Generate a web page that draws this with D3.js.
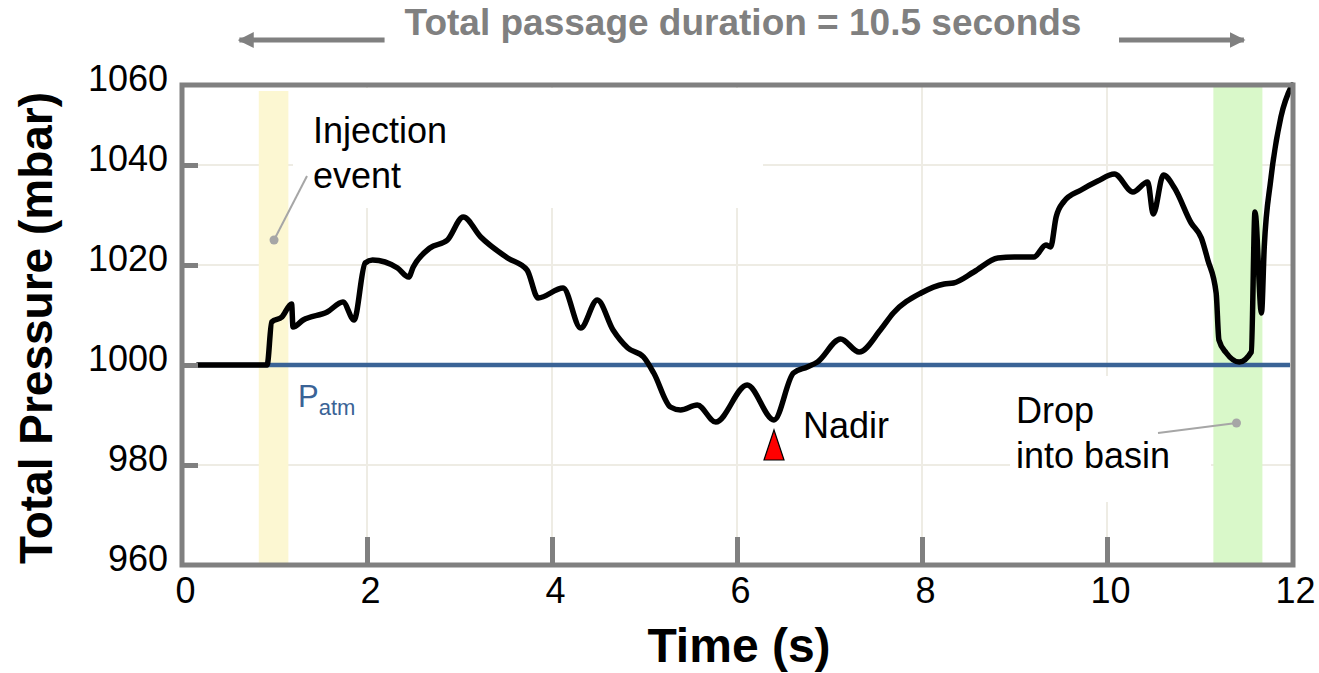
<!DOCTYPE html>
<html>
<head>
<meta charset="utf-8">
<script src="https://cdn.jsdelivr.net/npm/d3@7"></script>
<style>
  body { margin: 0; background: #fff; }
  svg { display: block; font-family: Arial, "Liberation Sans", sans-serif; }
</style>
</head>
<body>
<script>
var width = 1319, height = 673;

// pressure trace
var time = [0.17, 0.92, 0.97, 1.08, 1.185, 1.20, 1.31, 1.57, 1.74, 1.86, 1.98, 2.06, 2.33, 2.45, 2.50,
    2.68, 2.87, 3.04, 3.23, 3.52, 3.73, 3.85, 4.12, 4.31, 4.49, 4.66, 4.82, 4.99, 5.10, 5.28, 5.39,
    5.57, 5.77, 6.11, 6.40, 6.61, 6.76, 6.87, 7.12, 7.32, 7.55, 7.69, 7.99, 8.24, 8.34, 8.56, 8.82,
    9.00, 9.21, 9.34, 9.39, 9.45, 9.53, 9.72, 9.90, 10.08, 10.28, 10.44, 10.50, 10.61, 10.73, 10.91,
    11.02, 11.09, 11.18, 11.21, 11.29, 11.43, 11.56, 11.60, 11.67, 11.70, 11.77, 11.88, 12.0];
var pressure = [1000, 1000, 1008.6, 1009.6, 1012.2, 1007.6, 1009, 1010.6, 1012.6, 1009, 1020.4, 1021,
    1019.4, 1017.6, 1019.6, 1023.4, 1025, 1029.6, 1025.6, 1021.4, 1019, 1013.4, 1015.4, 1007.4, 1013,
    1007, 1003.4, 1001.6, 998.4, 991.6, 991, 992, 988.6, 996, 989, 998.4, 999.6, 1000.6, 1005.2, 1002.6,
    1007, 1010.4, 1014.4, 1016.2, 1016.4, 1018.6, 1021.4, 1021.6, 1021.6, 1024, 1023.6, 1029.6, 1032.6,
    1035, 1036.8, 1038.2, 1034.6, 1036.6, 1030.2, 1038, 1035.4, 1028.4, 1025.4, 1021, 1014.4, 1005,
    1002.4, 1000.6, 1002.6, 1030.6, 1010.4, 1023.6, 1037, 1049.6, 1056];

var xTicks = [0, 2, 4, 6, 8, 10, 12];
var yTicks = [960, 980, 1000, 1020, 1040, 1060];
var xGrid = [2, 4, 6, 8, 10];
var yGrid = [980, 1000, 1020, 1040];

var atmPressure = 1000;
var injectionBand = [0.83, 1.15];
var basinBand = [11.15, 11.68];
var passageArrows = [[2.19, 0.62], [10.13, 11.48]];
var nadirTime = 6.4, nadirPressure = 989;

var svg = d3.select("body").append("svg")
    .attr("width", width)
    .attr("height", height);

svg.append("rect").attr("width", width).attr("height", height).attr("fill", "#fff");

var x = d3.scaleLinear().domain([0, 12]).range([182, 1292]);
var y = d3.scaleLinear().domain([960, 1056]).range([565, 85]);
var yTop = y.domain()[1];

// grid
svg.append("g").selectAll("line")
    .data(yGrid).enter().append("line")
    .attr("x1", x(0) + 16).attr("x2", x(12))
    .attr("y1", function (d) { return y(d); })
    .attr("y2", function (d) { return y(d); })
    .attr("stroke", "#eeece4").attr("stroke-width", 2);
svg.append("g").selectAll("line")
    .data(xGrid).enter().append("line")
    .attr("y1", y(yTop)).attr("y2", y(960) - 28)
    .attr("x1", function (d) { return x(d); })
    .attr("x2", function (d) { return x(d); })
    .attr("stroke", "#eeece4").attr("stroke-width", 2);

// white boxes behind annotations hide the grid, as in the original
svg.append("rect").attr("x", 293).attr("y", 88).attr("width", 470).attr("height", 120).attr("fill", "#fff");
svg.append("rect").attr("x", 1010).attr("y", 376).attr("width", 201).attr("height", 126).attr("fill", "#fff");

// event bands
svg.append("rect")
    .attr("x", x(injectionBand[0])).attr("width", x(injectionBand[1]) - x(injectionBand[0]))
    .attr("y", 91).attr("height", y(960) - 2 - 91)
    .attr("fill", "#fcf7d2");
svg.append("rect")
    .attr("x", x(basinBand[0])).attr("width", x(basinBand[1]) - x(basinBand[0]))
    .attr("y", 87).attr("height", y(960) - 2 - 87)
    .attr("fill", "#d9f8c9");

// atmospheric line
svg.append("line")
    .attr("x1", x(time[0])).attr("x2", x(12) - 2)
    .attr("y1", y(atmPressure)).attr("y2", y(atmPressure))
    .attr("stroke", "#3a6396").attr("stroke-width", 4.5);

// pressure trace
var points = time.map(function (t, i) { return [t, pressure[i]]; });
var line = d3.line()
    .x(function (d) { return x(d[0]); })
    .y(function (d) { return y(d[1]); })
    .curve(d3.curveMonotoneX);
svg.append("path")
    .datum(points)
    .attr("d", line)
    .attr("fill", "none")
    .attr("stroke", "#000")
    .attr("stroke-width", 5.5)
    .attr("stroke-linejoin", "round")
    .attr("stroke-linecap", "round");

// frame
svg.append("rect")
    .attr("x", x(0)).attr("y", y(yTop))
    .attr("width", x(12) + 1 - x(0)).attr("height", y(960) - y(yTop))
    .attr("fill", "none").attr("stroke", "#808080").attr("stroke-width", 5);

// axes: short inner ticks and labels
var xAxisTicks = svg.append("g")
    .attr("transform", "translate(0," + y(960) + ")")
    .call(d3.axisBottom(x).tickValues(xGrid).tickSize(-28).tickFormat(""));
var yAxisTicks = svg.append("g")
    .attr("transform", "translate(" + x(0) + ",0)")
    .call(d3.axisLeft(y).tickValues(yGrid).tickSize(-16).tickFormat(""));
[xAxisTicks, yAxisTicks].forEach(function (g) {
    g.select(".domain").remove();
    g.selectAll(".tick line").attr("stroke", "#808080").attr("stroke-width", 5);
});

var xAxisLabels = svg.append("g")
    .attr("transform", "translate(0," + y(960) + ")")
    .call(d3.axisBottom(x).tickValues(xTicks).tickSize(0).tickPadding(12).tickFormat(d3.format("d")));
var yScaleClamped = y.copy().clamp(true);
var yAxisLabels = svg.append("g")
    .attr("transform", "translate(" + x(0) + ",0)")
    .call(d3.axisLeft(yScaleClamped).tickValues(yTicks).tickSize(0).tickPadding(14).tickFormat(d3.format("d")));
[xAxisLabels, yAxisLabels].forEach(function (g) {
    g.select(".domain").remove();
    g.selectAll("text").attr("font-size", 36).attr("fill", "#000")
        .attr("font-family", "Arial, 'Liberation Sans', sans-serif");
});
yAxisLabels.selectAll("text").attr("dy", "0.14em");
xAxisLabels.selectAll("text").attr("dx", 3);

// axis titles
svg.append("text")
    .attr("x", 739).attr("y", 662)
    .attr("text-anchor", "middle")
    .attr("font-size", 48).attr("font-weight", "bold")
    .text("Time (s)");
svg.append("text")
    .attr("transform", "translate(52,328) rotate(-90)")
    .attr("text-anchor", "middle")
    .attr("font-size", 46).attr("font-weight", "bold")
    .text("Total Pressure (mbar)");

// passage duration header with arrows
svg.append("defs").append("marker")
    .attr("id", "arrow")
    .attr("viewBox", "0 0 10 10")
    .attr("refX", 9).attr("refY", 5)
    .attr("markerWidth", 3.2).attr("markerHeight", 3.4)
    .attr("orient", "auto")
    .append("path").attr("d", "M0,0L10,5L0,10Z").attr("fill", "#808080");
svg.append("g").selectAll("line")
    .data(passageArrows).enter().append("line")
    .attr("x1", function (d) { return x(d[0]); })
    .attr("x2", function (d) { return x(d[1]); })
    .attr("y1", 40).attr("y2", 40)
    .attr("stroke", "#808080").attr("stroke-width", 5)
    .attr("marker-end", "url(#arrow)");
svg.append("text")
    .attr("x", 743).attr("y", 35)
    .attr("text-anchor", "middle")
    .attr("font-size", 37).attr("font-weight", "bold")
    .attr("fill", "#808080")
    .text("Total passage duration = 10.5 seconds");

// P atm label
var patm = svg.append("text")
    .attr("x", 298).attr("y", y(atmPressure) + 42)
    .attr("fill", "#3a6396").attr("font-size", 31);
patm.append("tspan").text("P");
patm.append("tspan").attr("font-size", 22).attr("dy", 8).text("atm");

// leader lines and dots
var leaders = [
    { dot: [0.995, 1025], end: [307, 176] },
    { dot: [11.4, 988.4], end: [1158, 433] }
];
leaders.forEach(function (l) {
    svg.append("line")
        .attr("x1", x(l.dot[0])).attr("y1", y(l.dot[1]))
        .attr("x2", l.end[0]).attr("y2", l.end[1])
        .attr("stroke", "#a6a6a6").attr("stroke-width", 2);
    svg.append("circle")
        .attr("cx", x(l.dot[0])).attr("cy", y(l.dot[1])).attr("r", 4.5)
        .attr("fill", "#a6a6a6");
});

function label(xp, yp, lines) {
    var t = svg.append("text").attr("font-size", 36).attr("fill", "#000");
    lines.forEach(function (s, i) {
        t.append("tspan").attr("x", xp).attr("y", yp + i * 45).text(s);
    });
}
label(313, 143, ["Injection", "event"]);
label(1016, 423, ["Drop", "into basin"]);
label(803, 438, ["Nadir"]);

// nadir marker
var nx = x(nadirTime), ny = y(nadirPressure) + 10;
svg.append("path")
    .attr("d", "M" + nx + "," + ny + "L" + (nx + 10) + "," + (ny + 30) + "L" + (nx - 10) + "," + (ny + 30) + "Z")
    .attr("fill", "#ff0000").attr("stroke", "#000").attr("stroke-width", 1.2);
</script>
</body>
</html>
